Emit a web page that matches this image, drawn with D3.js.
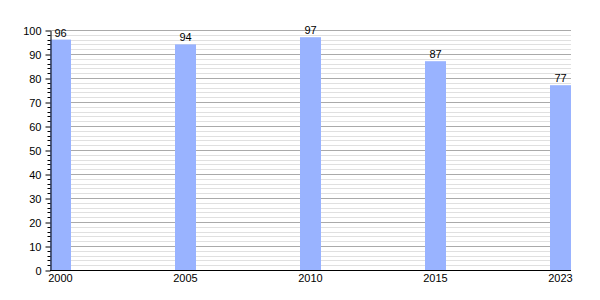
<!DOCTYPE html>
<html><head><meta charset="utf-8">
<script src="https://cdn.jsdelivr.net/npm/d3@7"></script>
<style>body{margin:0;background:#fff}svg{display:block;font-family:"Liberation Sans",Arial,sans-serif}</style>
</head><body>
<svg id="c" width="600" height="300"></svg>
<script>
const years = ["2000","2005","2010","2015","2023"];
const values = [96, 94, 97, 87, 77];
const yTicks = [0,10,20,30,40,50,60,70,80,90,100];

(function(){
const svg = d3.select("#c");
const pLeft = 50, pRight = 571, pTop = 30, pBottom = 270, barW = 21;
const x = d3.scalePoint().domain(years).range([pLeft, pRight - barW]);
const y = d3.scaleLinear().domain([0, 100]).range([pBottom, pTop]);

const minor = d3.range(0, 101, 2).filter(v => v % 10 !== 0);
svg.append("g").selectAll("line").data(minor).join("line")
  .attr("x1", pLeft).attr("x2", pRight)
  .attr("y1", d => Math.round(y(d)) + 0.5).attr("y2", d => Math.round(y(d)) + 0.5)
  .attr("stroke", "#e0e0e0");
svg.append("g").selectAll("line").data(yTicks.filter(v => v > 0)).join("line")
  .attr("x1", pLeft).attr("x2", pRight)
  .attr("y1", d => Math.round(y(d)) + 0.5).attr("y2", d => Math.round(y(d)) + 0.5)
  .attr("stroke", "#aaaaaa");

svg.append("g").selectAll("rect").data(values).join("rect")
  .attr("x", (d, i) => x(years[i]))
  .attr("width", barW)
  .attr("y", d => y(d))
  .attr("height", d => pBottom - y(d))
  .attr("fill", "#99b3ff");

svg.append("g").selectAll("text").data(values).join("text")
  .attr("x", (d, i) => x(years[i]) + barW / 2)
  .attr("y", d => y(d) - 3)
  .attr("text-anchor", "middle").attr("font-size", 11).attr("fill", "#000")
  .text(d => d);

const ya = svg.append("g").attr("transform", `translate(${pLeft + 0.5},0.5)`);
ya.call(d3.axisLeft(y).tickValues(yTicks).tickSize(5).tickSizeOuter(0).tickPadding(4));
ya.selectAll("text").attr("font-size", 11).attr("fill", "#000").style("font-family", "Liberation Sans, Arial, sans-serif");
ya.selectAll("line,path").attr("stroke", "#000");
ya.append("g").selectAll("line").data(minor).join("line")
  .attr("x1", -3).attr("x2", 0)
  .attr("y1", d => Math.round(y(d))).attr("y2", d => Math.round(y(d)))
  .attr("stroke", "#000");

svg.append("line").attr("x1", pLeft).attr("x2", pRight)
  .attr("y1", pBottom + 0.5).attr("y2", pBottom + 0.5).attr("stroke", "#000");
svg.append("g").selectAll("text").data(years).join("text")
  .attr("x", d => x(d) + barW / 2)
  .attr("y", pBottom + 12)
  .attr("text-anchor", "middle").attr("font-size", 11).attr("fill", "#000")
  .text(d => d);
})();
</script>
</body></html>
